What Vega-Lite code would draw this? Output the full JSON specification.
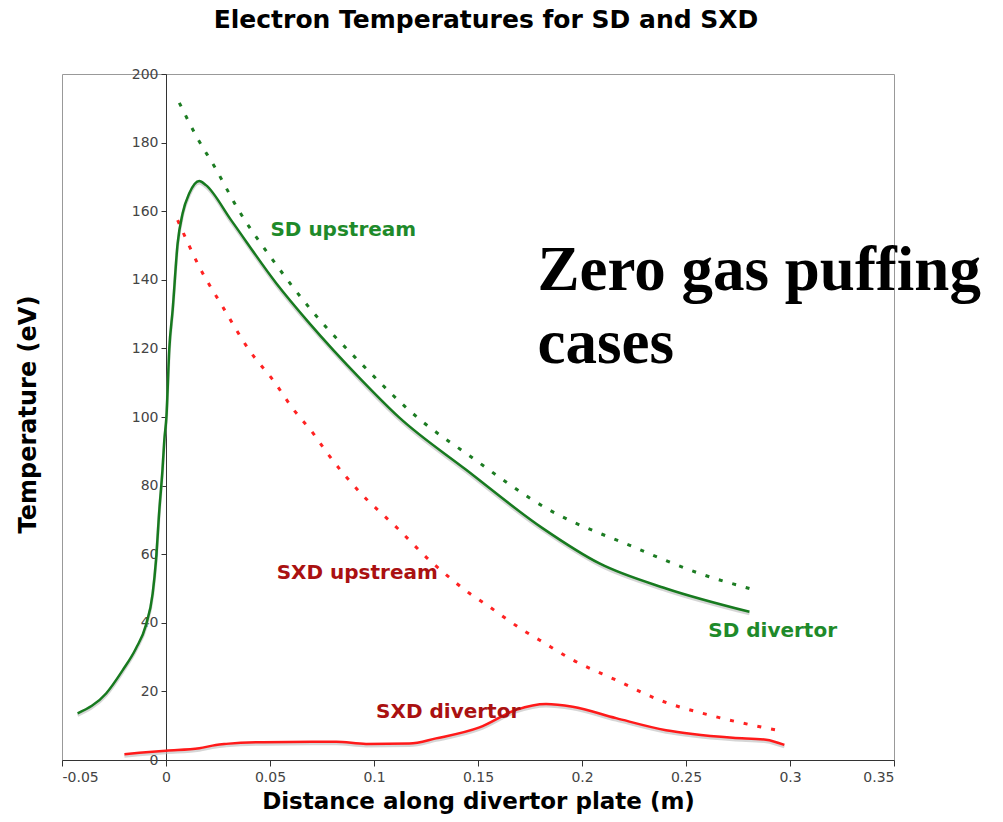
{
  "$schema": "https://vega.github.io/schema/vega-lite/v6.json",
  "autosize": "none",
  "width": 832,
  "height": 686,
  "padding": {"left": 62, "top": 74, "right": 109, "bottom": 62},
  "background": "white",
  "config": {
    "view": {"stroke": "#999999", "strokeWidth": 1},
    "font": "DejaVu Sans"
  },
  "title": {
    "text": "Electron Temperatures for SD and SXD",
    "font": "DejaVu Sans",
    "fontWeight": "bold",
    "fontSize": 25,
    "color": "#000000",
    "anchor": "middle",
    "dx": 8,
    "offset": 34
  },
  "datasets": {
    "sd_up": [
      {"x": 0.0064, "T": 191.6}, {"x": 0.0151, "T": 181.3}, {"x": 0.0233, "T": 173.0},
      {"x": 0.0353, "T": 159.9}, {"x": 0.0513, "T": 145.8}, {"x": 0.0705, "T": 130.7},
      {"x": 0.093, "T": 116.1}, {"x": 0.1234, "T": 98.6}, {"x": 0.1443, "T": 89.4},
      {"x": 0.1843, "T": 72.9}, {"x": 0.2244, "T": 62.2}, {"x": 0.2564, "T": 54.4},
      {"x": 0.2805, "T": 50.0}
    ],
    "sd_div": [
      {"x": -0.0425, "T": 13.6}, {"x": -0.0288, "T": 19.4}, {"x": -0.0208, "T": 26.2},
      {"x": -0.0144, "T": 32.6}, {"x": -0.0096, "T": 39.4}, {"x": -0.0064, "T": 48.6},
      {"x": -0.0048, "T": 58.3}, {"x": -0.0032, "T": 72.9}, {"x": -0.0017, "T": 84.5},
      {"x": -0.0008, "T": 93.3}, {"x": 0.0002, "T": 100.0}, {"x": 0.0016, "T": 120.0},
      {"x": 0.0032, "T": 131.2}, {"x": 0.0056, "T": 150.6}, {"x": 0.008, "T": 159.4},
      {"x": 0.0112, "T": 165.2}, {"x": 0.016, "T": 168.8}, {"x": 0.0192, "T": 167.6},
      {"x": 0.0313, "T": 157.4}, {"x": 0.053, "T": 139.0}, {"x": 0.069, "T": 127.3},
      {"x": 0.093, "T": 111.4}, {"x": 0.1122, "T": 99.8}, {"x": 0.1443, "T": 84.6},
      {"x": 0.181, "T": 67.6}, {"x": 0.2084, "T": 57.3}, {"x": 0.2404, "T": 50.0},
      {"x": 0.2805, "T": 43.2}
    ],
    "sxd_up": [
      {"x": 0.0056, "T": 157.4}, {"x": 0.016, "T": 143.8}, {"x": 0.0272, "T": 132.2},
      {"x": 0.04, "T": 119.5}, {"x": 0.052, "T": 110.3}, {"x": 0.0609, "T": 102.5},
      {"x": 0.0713, "T": 94.8}, {"x": 0.077, "T": 89.9}, {"x": 0.093, "T": 78.2},
      {"x": 0.1114, "T": 67.5}, {"x": 0.1275, "T": 57.8}, {"x": 0.133, "T": 54.9},
      {"x": 0.1459, "T": 48.6}, {"x": 0.1523, "T": 46.0}, {"x": 0.1723, "T": 37.6},
      {"x": 0.1795, "T": 35.0}, {"x": 0.1955, "T": 29.2}, {"x": 0.2164, "T": 23.3},
      {"x": 0.2372, "T": 17.5}, {"x": 0.2645, "T": 12.6}, {"x": 0.2973, "T": 8.3}
    ],
    "sxd_div": [
      {"x": -0.02, "T": 1.7}, {"x": -0.0128, "T": 2.1}, {"x": 0.0, "T": 2.7},
      {"x": 0.016, "T": 3.4}, {"x": 0.024, "T": 4.4}, {"x": 0.0289, "T": 4.7},
      {"x": 0.0465, "T": 5.2}, {"x": 0.0818, "T": 5.3}, {"x": 0.0962, "T": 4.7},
      {"x": 0.117, "T": 4.8}, {"x": 0.1298, "T": 6.3}, {"x": 0.1507, "T": 9.5},
      {"x": 0.1683, "T": 14.6}, {"x": 0.1827, "T": 16.3}, {"x": 0.1955, "T": 15.5},
      {"x": 0.2164, "T": 12.2}, {"x": 0.2404, "T": 8.7}, {"x": 0.2532, "T": 7.6},
      {"x": 0.2725, "T": 6.5}, {"x": 0.2885, "T": 5.9}, {"x": 0.2973, "T": 4.4}
    ],
    "labels": [
      {"label": "SD upstream", "group": "SD", "x": 0.0502, "T": 154.5},
      {"label": "SD divertor", "group": "SD", "x": 0.2607, "T": 37.7},
      {"label": "SXD upstream", "group": "SXD", "x": 0.0532, "T": 54.4},
      {"label": "SXD divertor", "group": "SXD", "x": 0.101, "T": 14.1}
    ],
    "note": [
      {"label": "Zero gas puffing", "x": 0.1786, "T": 137.0},
      {"label": "cases", "x": 0.1786, "T": 115.7}
    ]
  },
  "encoding": {
    "x": {
      "field": "x",
      "type": "quantitative",
      "scale": {"domain": [-0.05, 0.35], "nice": false, "zero": false},
      "axis": {
        "title": "Distance along divertor plate (m)",
        "values": [-0.05, 0, 0.05, 0.1, 0.15, 0.2, 0.25, 0.3, 0.35],
        "labelExpr": "datum.value < 0 ? '-' + format(-datum.value, '~g') : format(datum.value, '~g')",
        "grid": false,
        "domainColor": "#333333",
        "tickColor": "#333333",
        "tickSize": 6,
        "labelFont": "DejaVu Sans",
        "labelFontSize": 14,
        "labelColor": "#444444",
        "labelPadding": 4,
        "titleFont": "DejaVu Sans",
        "titleFontSize": 23,
        "titleFontWeight": "bold",
        "titleColor": "#000000",
        "titlePadding": 6
      }
    },
    "y": {
      "field": "T",
      "type": "quantitative",
      "scale": {"domain": [0, 200], "nice": false},
      "axis": {
        "title": "Temperature (eV)",
        "offset": -104,
        "values": [0, 20, 40, 60, 80, 100, 120, 140, 160, 180, 200],
        "grid": false,
        "domainColor": "#333333",
        "tickColor": "#333333",
        "tickSize": 5,
        "labelFont": "DejaVu Sans",
        "labelFontSize": 14,
        "labelColor": "#444444",
        "labelPadding": 3,
        "titleFont": "DejaVu Sans",
        "titleFontSize": 24,
        "titleFontWeight": "bold",
        "titleColor": "#000000",
        "titleX": -138,
        "titleY": 340,
        "titleAngle": -90,
        "titleBaseline": "middle",
        "titleAlign": "center"
      }
    }
  },
  "layer": [
    {"data": {"name": "sd_div"}, "mark": {"type": "line", "interpolate": "monotone", "color": "#bbbbbb", "strokeWidth": 3, "opacity": 0.6, "yOffset": 2}},
    {"data": {"name": "sxd_div"}, "mark": {"type": "line", "interpolate": "monotone", "color": "#bbbbbb", "strokeWidth": 3, "opacity": 0.6, "yOffset": 2}},
    {"data": {"name": "sd_up"}, "mark": {"type": "line", "interpolate": "monotone", "color": "#1c7c22", "strokeWidth": 3, "strokeDash": [4, 10]}},
    {"data": {"name": "sxd_up"}, "mark": {"type": "line", "interpolate": "monotone", "color": "#ff2222", "strokeWidth": 3, "strokeDash": [4, 10]}},
    {"data": {"name": "sd_div"}, "mark": {"type": "line", "interpolate": "monotone", "color": "#177a1f", "strokeWidth": 2.5}},
    {"data": {"name": "sxd_div"}, "mark": {"type": "line", "interpolate": "monotone", "color": "#ff1a1a", "strokeWidth": 2.5}},
    {
      "data": {"name": "labels"},
      "mark": {"type": "text", "align": "left", "baseline": "middle", "font": "DejaVu Sans", "fontWeight": "bold", "fontSize": 20},
      "encoding": {
        "text": {"field": "label"},
        "color": {"field": "group", "type": "nominal", "scale": {"domain": ["SD", "SXD"], "range": ["#1e8a2a", "#aa1111"]}, "legend": null}
      }
    },
    {
      "data": {"name": "note"},
      "mark": {"type": "text", "align": "left", "baseline": "alphabetic", "font": "Liberation Serif", "fontWeight": "bold", "fontSize": 63, "color": "#000000", "clip": false},
      "encoding": {"text": {"field": "label"}}
    }
  ]
}
